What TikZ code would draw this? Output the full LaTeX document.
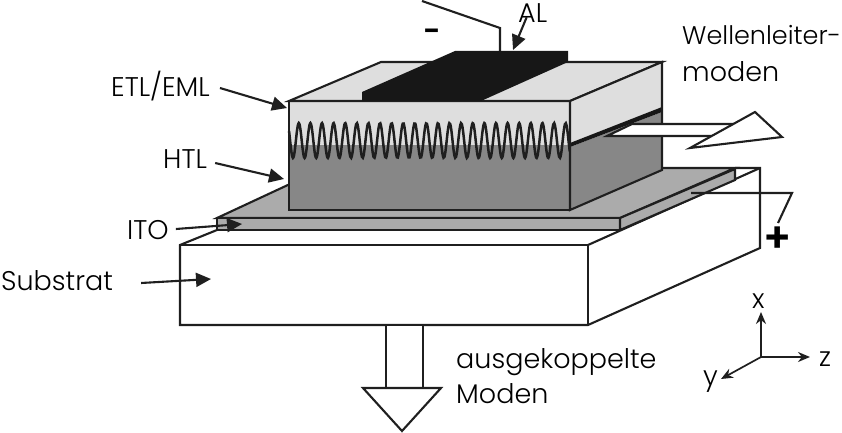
\documentclass[tikz,border=0pt]{standalone}
\usepackage{fontspec}
\setmainfont{Poppins Light}
\usetikzlibrary{positioning,arrows.meta,calc}
\definecolor{alclr}{gray}{0.09}
\definecolor{etlclr}{gray}{0.87}
\definecolor{htlclr}{gray}{0.53}
\definecolor{itoclr}{gray}{0.67}
\definecolor{lineclr}{gray}{0.12}
\tikzset{
  label/.style={font=\fontsize{27}{29}\selectfont,text=black,inner sep=0pt,anchor=base west},
  outline/.style={draw=lineclr,line width=2.1pt,line join=miter},
  lead/.style={-{Triangle[length=15pt,width=14pt]},line width=2.1pt,draw=lineclr},
  axis/.style={-{Stealth[length=12pt,width=10pt]},line width=1.7pt,draw=lineclr},
  wire/.style={draw=lineclr,line width=2.1pt},
}
\begin{document}
\begin{tikzpicture}[x=1pt,y=-1pt]
\useasboundingbox (0,0) rectangle (842,433);
% substrate
\draw[outline] (217,230) -- (180,245) -- (180,325) -- (588,325) -- (760,248) -- (760,168) -- (735,168);
\draw[outline] (180,245) -- (588,245) -- (588,325);
\draw[outline] (588,245) -- (760,168);
% ITO
\draw[outline,fill=itoclr] (217,218) -- (290,184) -- (660,168) -- (735,168) -- (620,218) -- cycle;
\draw[outline,fill=itoclr] (217,218) rectangle (620,230);
\draw[outline,fill=itoclr] (620,218) -- (735,169) -- (735,180) -- (620,230) -- cycle;
% organic layers, front
\fill[htlclr] (289,143) rectangle (570,210);
\fill[etlclr] (289,101) rectangle (570,145);
\draw[line width=2.5pt,draw=lineclr,smooth,samples=290,domain=-0.34:23.86]
  plot ({293+11.6*\x},{140.5+17.5*cos(360*\x)});
\draw[outline] (289,101) rectangle (570,210);
% organic layers, side and top
\draw[outline,fill=etlclr] (289,101) -- (381,62) -- (662,62) -- (570,101) -- cycle;
\fill[etlclr] (570,101) -- (662,62) -- (662,107) -- (570,143) -- cycle;
\fill[htlclr] (570,147) -- (662,112) -- (662,170) -- (570,210) -- cycle;
\fill[alclr] (570,143) -- (662,107) -- (662,112) -- (570,147) -- cycle;
\draw[outline] (570,101) -- (662,62) -- (662,170) -- (570,210) -- cycle;
% AL contact
\fill[alclr] (362,101) -- (362,92) -- (455,51) -- (568,51) -- (568,62) -- (481,101) -- cycle;
% waveguide modes
\draw[outline,fill=white] (607,136) -- (632,124) -- (735,124) -- (717,136) -- cycle;
\draw[outline,fill=white] (690,148) -- (755,112) -- (782,137) -- cycle;
% outcoupled modes
\draw[outline,fill=white] (386,325) rectangle (423,388);
\draw[outline,fill=white] (363,388) -- (441,388) -- (402,431) -- cycle;
% contacts
\coordinate (minusend) at (422,1);
\coordinate (minusknee) at (500,28);
\coordinate (minustip) at (500,51);
\draw[wire] (minusend) -- (minusknee) -- (minustip);
\node[font=\fontsize{30}{30}\selectfont\bfseries,inner sep=0pt] (minus) at (432,35) {-};
\coordinate (plusend) at (691,193);
\coordinate (plusknee) at (792,193);
\coordinate (plustip) at (778,223);
\draw[wire] (plusend) -- (plusknee) -- (plustip);
\node[font=\fontsize{42}{42}\selectfont\bfseries,inner sep=0pt] (plus) at (778,240) {+};
% labels
\node[label] (al) at (518,23) {AL};
\node[label,font=\fontsize{25.5}{29}\selectfont] (wg1) at (682,45) {Wellenleiter-};
\node[label] (wg2) at (682,82) {moden};
\node[label] (etl) at (111,97) {ETL/EML};
\node[label] (htl) at (163,168) {HTL};
\node[label] (ito) at (127,239) {ITO};
\node[label] (sub) at (1,290) {Substrat};
\node[label] (aus1) at (456,368) {ausgekoppelte};
\node[label] (aus2) at (456,403) {Moden};
% lead arrows
\coordinate (altip) at (513,50);
\coordinate (etltip) at (287,108);
\coordinate (htltip) at (284,179);
\coordinate (itotip) at (242,224);
\coordinate (subtip) at (211,279);
\draw[lead] ([xshift=-6pt,yshift=6pt]al.south) -- (altip);
\draw[lead] ([xshift=10pt,yshift=9pt]etl.base east) -- (etltip);
\draw[lead] ([xshift=8pt,yshift=5pt]htl.base east) -- (htltip);
\draw[lead] ([xshift=7pt,yshift=10pt]ito.base east) -- (itotip);
\draw[lead] ([xshift=28pt,yshift=7pt]sub.base east) -- (subtip);
% axes
\coordinate (origin) at (761,357);
\node[label] (xlab) at (752,308) {x};
\node[label] (zlab) at (819,366) {z};
\node[label] (ylab) at (703,385) {y};
\coordinate (xtip) at (761,312);
\coordinate (ztip) at (810,357);
\coordinate (ytip) at (721,379);
\draw[axis] (origin) -- (xtip);
\draw[axis] (origin) -- (ztip);
\draw[axis] (origin) -- (ytip);
\end{tikzpicture}
\end{document}
